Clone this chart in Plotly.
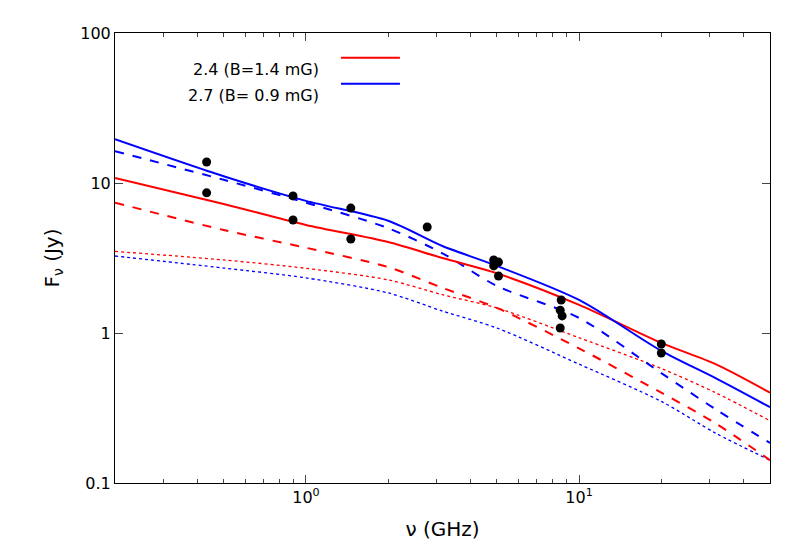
import plotly.graph_objects as go

# observed flux densities
obs_nu = [0.433, 0.433, 0.897, 0.897, 1.46, 1.46, 2.78, 4.87, 4.87, 5.07, 5.07,
          8.53, 8.53, 8.67, 8.6, 20.0, 20.0]
obs_f = [13.8, 8.6, 8.2, 5.67, 6.8, 4.23, 5.09, 3.07, 2.8, 2.97, 2.4,
         1.42, 1.08, 1.30, 1.66, 0.845, 0.736]

# model curves
nu = [0.2, 0.5, 1.0, 2.0, 3.16, 5.0, 10.0, 20.0, 31.6, 50.0]
red_solid = [10.8, 7.25, 5.25, 4.04, 3.16, 2.5, 1.54, 0.86, 0.62, 0.40]
blue_solid = [19.6, 11.1, 7.6, 5.6, 3.8, 2.8, 1.66, 0.76, 0.50, 0.32]
red_dash = [7.4, 4.86, 3.7, 2.75, 2.0, 1.47, 0.79, 0.40, 0.25, 0.142]
blue_dash = [16.3, 10.5, 7.4, 5.0, 3.4, 2.06, 1.26, 0.54, 0.31, 0.185]
red_dot = [3.5, 3.07, 2.7, 2.26, 1.8, 1.47, 0.93, 0.58, 0.40, 0.26]
blue_dot = [3.26, 2.71, 2.33, 1.85, 1.40, 1.08, 0.62, 0.35, 0.215, 0.142]

RED = "#ff0000"
BLUE = "#0000ff"

fig = go.Figure()
for ys, col, dash, w in [(red_dot, RED, "dot", 1.3), (blue_dot, BLUE, "dot", 1.3),
                         (red_dash, RED, "dash", 2), (blue_dash, BLUE, "dash", 2),
                         (red_solid, RED, "solid", 2), (blue_solid, BLUE, "solid", 2)]:
    fig.add_trace(go.Scatter(x=nu, y=ys, mode="lines", showlegend=False,
                             line=dict(color=col, dash=dash, width=w, shape="spline",
                                       smoothing=0.8)))
fig.add_trace(go.Scatter(x=obs_nu, y=obs_f, mode="markers", showlegend=False,
                         marker=dict(color="black", size=9)))

# gnuplot-style key
for i, (label, col) in enumerate([("2.4 (B=1.4 mG)", RED), ("2.7 (B= 0.9 mG)", BLUE)]):
    yy = 0.945 - i * 0.058
    fig.add_annotation(x=0.315, y=yy, xref="paper", yref="paper", text=label,
                       showarrow=False, xanchor="right", font=dict(size=16))
    fig.add_shape(type="line", xref="paper", yref="paper", x0=0.345, x1=0.435,
                  y0=yy, y1=yy, line=dict(color=col, width=2))

axis = dict(type="log", showgrid=False, zeroline=False, mirror="allticks",
            ticks="inside", ticklen=8, showline=True, linecolor="black",
            linewidth=1, tickfont=dict(size=16), title_font=dict(size=20))
minor_x = [m * 10 ** e for e in (-1, 0, 1) for m in range(2, 10) if 0.2 <= m * 10 ** e <= 50]
fig.update_xaxes(**axis, range=[-0.699, 1.699], title_text="ν (GHz)",
                 tickvals=[1, 10], ticktext=["10<sup>0</sup>", "10<sup>1</sup>"],
                 minor=dict(ticks="inside", ticklen=4, tickvals=minor_x, showgrid=False))
fig.update_yaxes(**axis, range=[-1, 2], title_text="F<sub>ν</sub> (Jy)",
                 tickvals=[0.1, 1, 10, 100], ticktext=["0.1", "1", "10", "100"])
fig.update_layout(width=800, height=550, plot_bgcolor="white", paper_bgcolor="white",
                  font=dict(family="DejaVu Sans", color="black"),
                  margin=dict(l=107, r=38, t=25, b=75))
fig.write_html("out.html")
